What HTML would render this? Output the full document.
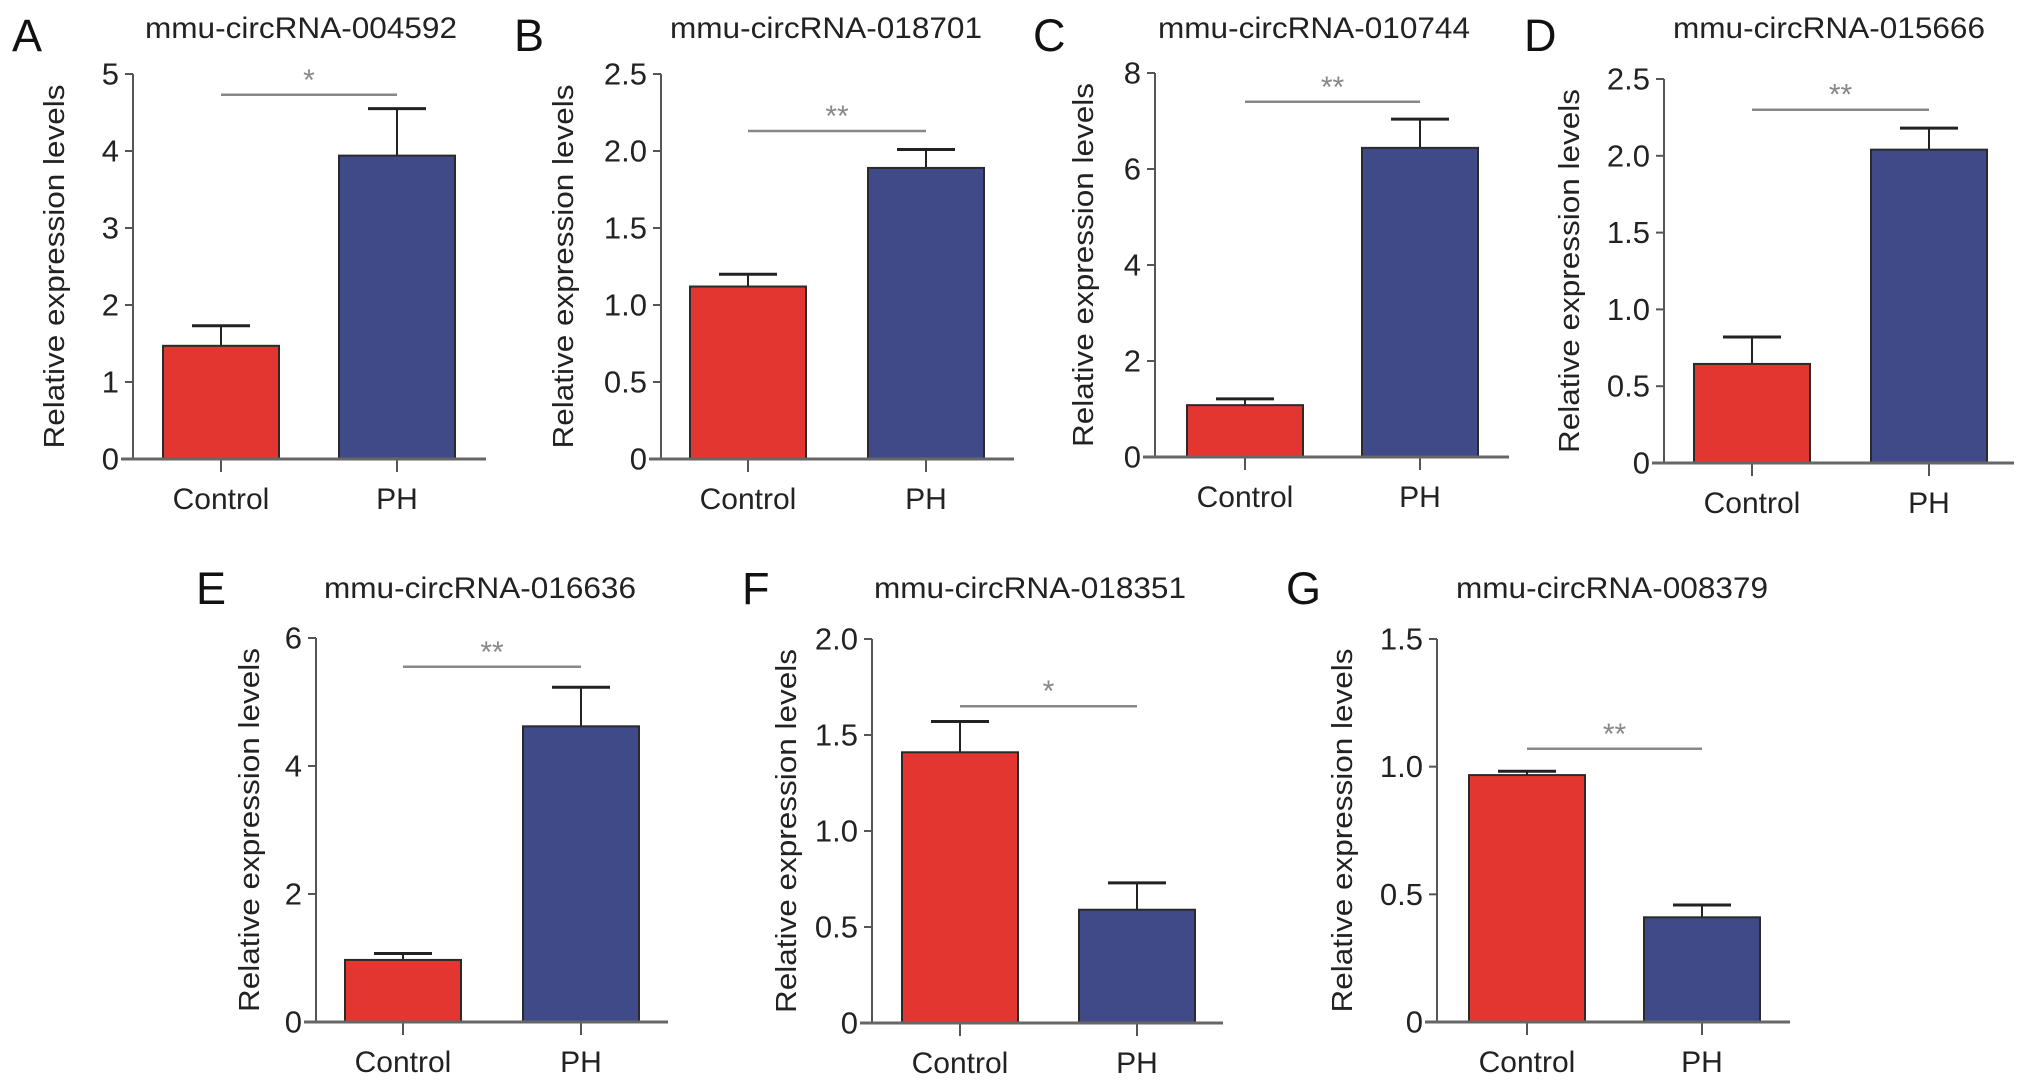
<!DOCTYPE html>
<html><head><meta charset="utf-8"><style>
html,body{margin:0;padding:0;background:#fff;}
svg{display:block;font-family:"Liberation Sans",Arial,sans-serif;}
</style></head><body>
<svg id="fig" width="2032" height="1081" viewBox="0 0 2032 1081" xmlns="http://www.w3.org/2000/svg"></svg>
<script>
const panelLetters=["A","B","C","D","E","F","G"];
const titles=["mmu-circRNA-004592","mmu-circRNA-018701","mmu-circRNA-010744","mmu-circRNA-015666","mmu-circRNA-016636","mmu-circRNA-018351","mmu-circRNA-008379"];
const categories=["Control","PH"];
const controlMeans=[1.47,1.12,1.08,0.645,0.97,1.41,0.967];
const controlErrs=[0.26,0.08,0.13,0.175,0.10,0.16,0.015];
const phMeans=[3.94,1.89,6.44,2.04,4.62,0.59,0.41];
const phErrs=[0.61,0.12,0.6,0.14,0.61,0.14,0.048];
const yMaxes=[5,2.5,8,2.5,6,2.0,1.5];
const tickSteps=[1,0.5,2,0.5,2,0.5,0.5];
const tickDecimals=[0,1,0,1,0,1,1];
const sigLevels=[4.73,2.13,7.4,2.30,5.55,1.65,1.07];
const sigStars=["*","**","**","**","**","*","**"];

// layout (pixels), not data
const L=[
 {ax:133,y0:459,yt:74,c:[221,397],end:486,tx:301,ty:37,lx:12,ly:51,yl:55},
 {ax:661,y0:459,yt:74,c:[748,926],end:1014,tx:826,ty:37,lx:514,ly:51,yl:564},
 {ax:1155,y0:457,yt:73,c:[1245,1420],end:1509,tx:1314,ty:37,lx:1033,ly:51,yl:1084},
 {ax:1664,y0:463,yt:79,c:[1752,1929],end:2014,tx:1829,ty:37,lx:1524,ly:51,yl:1570},
 {ax:316,y0:1022,yt:638,c:[403,581],end:668,tx:480,ty:597,lx:196,ly:604,yl:250},
 {ax:872,y0:1023,yt:639,c:[960,1137],end:1223,tx:1030,ty:597,lx:742,ly:604,yl:787},
 {ax:1437,y0:1022,yt:639,c:[1527,1702],end:1790,tx:1612,ty:597,lx:1286,ly:604,yl:1343}
];
const NS="http://www.w3.org/2000/svg";
const svg=document.getElementById('fig');
function mk(tag,attrs,parent,text){const e=document.createElementNS(NS,tag);for(const k in attrs)e.setAttribute(k,attrs[k]);if(text!==undefined)e.textContent=text;parent.appendChild(e);return e;}
const fills=["#e43631","#414a89"];
const barMeans=[controlMeans,phMeans];
const barErrs=[controlErrs,phErrs];
for(let p=0;p<7;p++){
  const l=L[p];
  const y=v=>l.y0-(v/yMaxes[p])*(l.y0-l.yt);
  const g=mk('g',{},svg);
  
  
  const lt=mk('text',{x:l.lx,y:l.ly,'font-size':45,fill:'#111'},g,panelLetters[p]);
  
  
  const tt=mk('text',{x:l.tx,y:l.ty+1,'font-size':30,'text-anchor':'middle',fill:'#222',textLength:312,lengthAdjust:'spacingAndGlyphs'},g,titles[p]);
  
  
  const yc=(l.y0+l.yt)/2;
  const ylab=mk('text',{x:l.yl,y:yc,'font-size':29,'text-anchor':'middle','dominant-baseline':'central',fill:'#222',transform:`rotate(-90 ${l.yl} ${yc})`,textLength:364,lengthAdjust:'spacingAndGlyphs'},g,'Relative expression levels');
  
  
  const ya=mk('line',{x1:l.ax,y1:l.y0,x2:l.ax,y2:l.yt,stroke:'#555','stroke-width':2},g);
  
  
  const n=Math.round(yMaxes[p]/tickSteps[p]);
  for(let i=0;i<=n;i++){
    const v=i*tickSteps[p];const yy=y(v);
    mk('line',{x1:l.ax-8,y1:yy,x2:l.ax,y2:yy,stroke:'#555','stroke-width':2},g);
    const lab=i===0?'0':v.toFixed(tickDecimals[p]);
    const t=mk('text',{x:l.ax-14,y:yy,'font-size':31,'text-anchor':'end','dominant-baseline':'central',fill:'#222'},g,lab);
    
    
  }
  for(let b=0;b<2;b++){
    const cx=l.c[b];const m=barMeans[b][p];const e=barErrs[b][p];
    const eb=mk('line',{x1:cx,y1:y(m),x2:cx,y2:y(m+e),stroke:'#222','stroke-width':2},g);
    
    
    mk('line',{x1:cx-29,y1:y(m+e),x2:cx+29,y2:y(m+e),stroke:'#222','stroke-width':3},g);
    const r=mk('rect',{x:cx-58,y:y(m),width:116,height:y(0)-y(m),fill:fills[b],stroke:'#2a2a2a','stroke-width':2},g);
    
    
    mk('line',{x1:cx,y1:l.y0,x2:cx,y2:l.y0+13,stroke:'#555','stroke-width':2},g);
    const xl=mk('text',{x:cx,y:l.y0+50,'font-size':30,'text-anchor':'middle',fill:'#222'},g,categories[b]);
    
    
  }
  const xa=mk('line',{x1:l.ax-12,y1:l.y0,x2:l.end,y2:l.y0,stroke:'#666','stroke-width':3},g);
  
  
  const sy=y(sigLevels[p]);
  const sl=mk('line',{x1:l.c[0],y1:sy,x2:l.c[1],y2:sy,stroke:'#888','stroke-width':2.5},g);
  
  
  const st=mk('text',{x:(l.c[0]+l.c[1])/2,y:sy-5,'font-size':30,'text-anchor':'middle',fill:'#888'},g,sigStars[p]);
  
  
}
</script>
</body></html>
